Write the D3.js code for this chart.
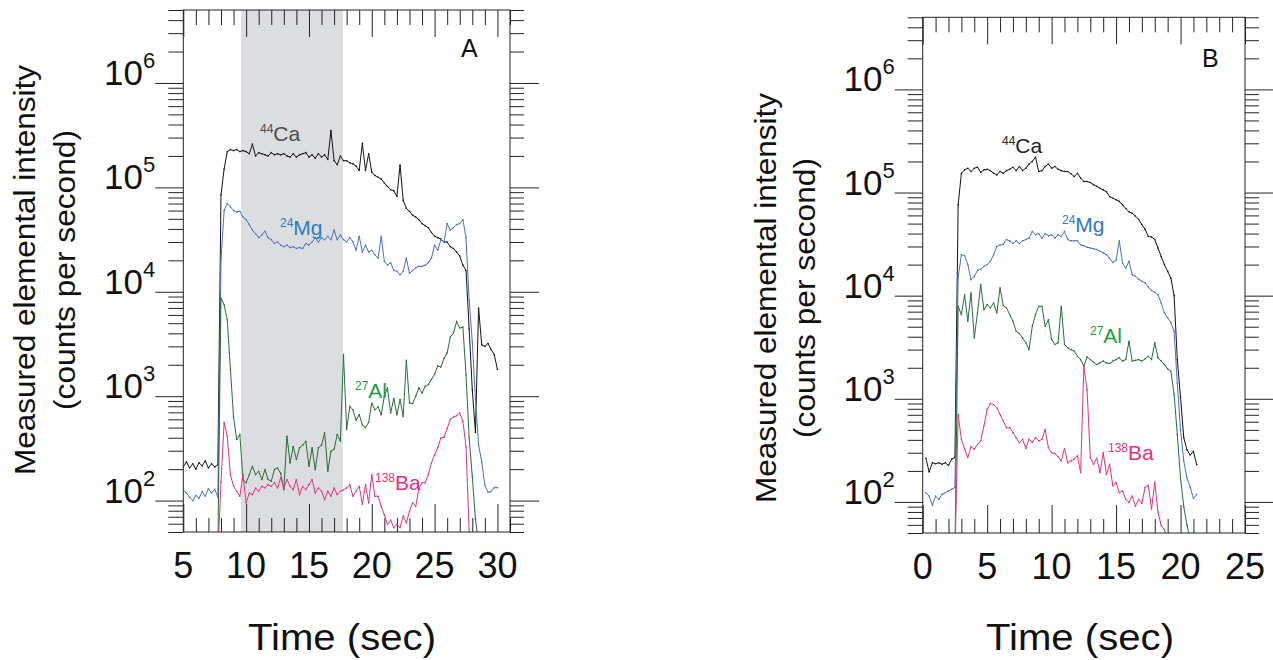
<!DOCTYPE html>
<html>
<head>
<meta charset="utf-8">
<script src="https://cdn.jsdelivr.net/npm/d3@7"></script>
<style>
  html, body { margin: 0; padding: 0; background: #fff; }
  svg { display: block; font-family: "Liberation Sans", Arial, Helvetica, sans-serif; }
</style>
</head>
<body>
<svg id="chart" width="1273" height="660"></svg>
<script>
// ---- Panel A: time-resolved signal, sampled every 0.25 s from 5 s ----
const timeStartA = 5;
const sweepA = 0.25;
const ca44A = [210,235,205,225,200,230,215,240,205,225,210,220,
  85000,150000,220000,230000,225000,230000,220000,225000,220000,210000,260000,200000,
  215000,210000,205000,200000,215000,205000,210000,205000,210000,200000,195000,210000,
  195000,205000,210000,215000,195000,205000,190000,210000,195000,205000,185000,350000,
  180000,165000,200000,180000,180000,172000,168000,160000,145000,265000,145000,210000,
  140000,130000,125000,120000,110000,102000,95000,93000,82000,164000,75000,63000,
  59000,54000,52000,49000,45000,43000,41000,37000,34000,33000,32000,30000,
  30000,27000,26000,24000,22000,18000,16000,4400,1150,450,7000,3100,
  3000,3200,2800,2500,1800];
const mg24A = [125,118,108,100,112,105,122,110,130,118,128,108,
  20000,60000,70000,65000,60000,58000,59000,52000,49000,44000,39000,36000,
  33000,35000,38000,33000,31500,29000,30000,28000,27000,28000,26500,27000,
  26000,26500,26000,29000,28000,30000,33000,30000,33000,31500,34000,31500,
  39000,31500,35000,31500,30000,33000,30000,25000,34000,24000,28000,24000,
  25000,22600,21000,34000,19500,18000,19000,16000,15700,14500,15700,21000,
  15000,16000,17000,17500,17500,18000,19000,21000,28000,25000,31500,30000,
  45000,39000,41000,44000,45000,49000,33000,8300,3300,930,340,235,
  140,120,122,133,133];
const al27A = [30,28,32,30,27,31,29,33,30,28,31,35,
  8700,7500,5400,1800,630,384,430,159,148,177,213,177,
  191,159,198,159,153,198,205,182,127,413,229,330,
  247,320,340,370,213,320,198,320,340,445,191,297,
  310,430,370,2500,480,800,740,590,665,530,500,560,
  860,740,790,660,1000,1200,690,950,665,930,640,2200,
  860,850,1000,1200,1070,1240,1290,1450,1620,1950,1900,2300,
  2600,3700,4000,5200,4500,4600,1600,400,170,66,40,30,
  28,25,27,25,24];
const ba138A = [25,22,28,24,20,26,23,27,21,25,24,30,
  150,560,413,177,137,123,110,177,95,118,114,132,
  123,137,132,142,137,148,132,165,132,159,137,127,
  159,114,137,127,142,159,118,132,123,102,123,110,
  132,114,123,127,132,142,110,123,137,92,142,95,
  177,110,110,88,73,59,65,55,59,55,71,61,
  79,95,88,132,148,148,177,229,275,320,398,405,
  490,600,630,650,690,575,330,50,30,25,22,24,
  20,22,21,20,20];
const shadedWindowA = [9.6, 17.7];

// ---- Panel B: sampled every 0.25 s from 0.25 s ----
const timeStartB = 0.25;
const sweepB = 0.25;
const ca44B = [265,195,240,235,240,232,240,226,260,270,
  76000,154000,166000,172000,160000,172000,176000,157000,166000,168000,
  163000,154000,148000,160000,154000,163000,168000,176000,163000,179000,
  163000,172000,189000,200000,220000,160000,163000,179000,189000,172000,
  179000,168000,163000,160000,160000,152000,143000,154000,138000,128000,
  128000,125000,119000,115000,110000,106000,102000,91000,88000,85000,
  82000,76000,70000,65000,63000,59000,55000,49000,44000,37500,
  37000,35000,29000,24000,20000,17200,14800,10000,2400,1030,
  420,320,285,310,230];
const mg24B = [123,114,93,114,106,119,123,128,133,138,
  15000,25000,24500,20000,14300,15400,17600,18000,19200,20000,
  21500,25000,30000,31000,31500,35000,34000,32000,34000,32000,
  34000,35000,36000,42000,39000,40000,36000,40000,38000,39000,
  36000,39000,37500,42000,35000,34000,34000,34000,31000,30500,
  29500,29000,28500,28000,27000,26000,25000,23000,21000,22000,
  34000,20700,18500,21500,16000,15400,14500,13800,13300,12100,
  11200,10800,10200,8500,6800,6100,5500,4500,1400,500,
  250,170,140,108,118];
const al27B = [30,28,32,29,27,31,30,28,33,30,
  7900,6550,10200,5650,10600,3900,6800,12800,7300,8200,
  7600,8500,6800,11900,8000,7600,6550,5650,4520,4300,
  3900,3490,3000,5050,6550,7900,7900,5050,5860,3750,
  3360,3490,7900,3360,3120,3000,2900,2590,2400,2070,
  2550,2400,2260,2150,2230,2320,2230,2200,2320,2400,
  2500,2320,2400,3620,2320,2360,2400,2320,2440,2590,
  2400,3490,2500,2320,2150,1950,1850,1100,450,170,
  90,60,42,35,30];
const ba138B = [30,28,32,29,27,31,30,28,33,30,
  705,405,325,270,345,325,360,390,545,790,
  900,880,820,705,610,525,525,470,420,375,
  405,330,405,380,420,390,405,505,335,300,
  295,275,250,330,240,250,260,280,192,2070,
  1230,270,232,265,192,300,185,232,143,154,
  123,128,106,99,114,91,106,97,138,145,
  85,155,80,59,54,40,35,32,30,28,
  30,27,25,26,25];

// ---- Axis ticks ----
const xMajorA = [5, 10, 15, 20, 25, 30];
const xMajorB = [0, 5, 10, 15, 20, 25];
const decades = [2, 3, 4, 5, 6];
const yDomain = [50, 5e6];
const xTitle = "Time (sec)";
const yTitle1 = "Measured elemental intensity";
const yTitle2 = "(counts per second)";

const elements = [
  { key: "ca", mass: "44", sym: "Ca", line: "#111111" },
  { key: "mg", mass: "24", sym: "Mg", line: "#4a6fc4" },
  { key: "al", mass: "27", sym: "Al", line: "#2a6b3a" },
  { key: "ba", mass: "138", sym: "Ba", line: "#e8307c" }
];

const svg = d3.select("#chart");
const FONT = '"Liberation Sans", Arial, Helvetica, sans-serif';

function minorLogTicks(domain) {
  const out = [];
  for (let e = 0; e <= 7; e++) {
    for (let m = 2; m <= 9; m++) {
      const v = m * Math.pow(10, e);
      if (v >= domain[0] && v <= domain[1]) out.push(v);
    }
  }
  return out;
}

function drawPanel(p) {
  const x = d3.scaleLinear().domain(p.xDomain).range([p.left, p.right]);
  const y = d3.scaleLog().domain(yDomain).range([p.bottom, p.top]);
  const g = svg.append("g");

  const clipId = "clip-" + p.id;
  svg.append("defs").append("clipPath").attr("id", clipId)
    .append("rect")
    .attr("x", p.left).attr("y", p.top)
    .attr("width", p.right - p.left).attr("height", p.bottom - p.top);

  // shaded acquisition window
  if (p.window) {
    g.append("rect")
      .attr("x", x(p.window[0])).attr("y", p.top)
      .attr("width", x(p.window[1]) - x(p.window[0]))
      .attr("height", p.bottom - p.top)
      .attr("fill", "#dcdde0");
  }

  // axes
  const xMinor = d3.range(Math.ceil(p.xDomain[0]), Math.floor(p.xDomain[1]) + 1)
    .filter(v => !p.xMajor.includes(v));
  const yMinor = minorLogTicks(yDomain);
  const yMajor = decades.map(n => Math.pow(10, n));

  function addAxis(axis, transform) {
    const a = g.append("g").attr("transform", transform).call(axis);
    a.select(".domain").remove();
    a.selectAll("text").remove();
    a.selectAll("line").attr("stroke", "#222").attr("stroke-width", 1);
    return a;
  }
  addAxis(d3.axisTop(x).tickValues(xMinor).tickSize(-15).tickSizeOuter(0), `translate(0,${p.top})`);
  addAxis(d3.axisTop(x).tickValues(p.xMajor).tickSize(-27).tickSizeOuter(0), `translate(0,${p.top})`);
  addAxis(d3.axisBottom(x).tickValues(xMinor).tickSize(-14).tickSizeOuter(0), `translate(0,${p.bottom})`);
  addAxis(d3.axisBottom(x).tickValues(p.xMajor).tickSize(-28).tickSizeOuter(0), `translate(0,${p.bottom})`);
  addAxis(d3.axisLeft(y).tickValues(yMinor).tickSize(15).tickSizeOuter(0), `translate(${p.left},0)`);
  addAxis(d3.axisLeft(y).tickValues(yMajor).tickSize(28).tickSizeOuter(0), `translate(${p.left},0)`);
  addAxis(d3.axisRight(y).tickValues(yMinor).tickSize(14).tickSizeOuter(0), `translate(${p.right},0)`);
  addAxis(d3.axisRight(y).tickValues(yMajor).tickSize(29).tickSizeOuter(0), `translate(${p.right},0)`);

  // x tick labels
  g.selectAll(".xl").data(p.xMajor).enter().append("text")
    .attr("x", d => x(d)).attr("y", p.bottom + 46)
    .attr("text-anchor", "middle")
    .attr("font-size", 36).attr("fill", "#111")
    .text(d => d);

  // y tick labels: 10^n
  decades.forEach(n => {
    const t = g.append("text")
      .attr("x", p.left - 28).attr("y", y(Math.pow(10, n)) + 2)
      .attr("text-anchor", "end").attr("fill", "#111")
      .attr("font-size", 35);
    t.append("tspan").text("10");
    t.append("tspan").attr("font-size", 22).attr("dy", -17).text(n);
  });

  // series
  const lines = g.append("g").attr("clip-path", `url(#${clipId})`);
  elements.forEach(el => {
    const vals = p.series[el.key];
    const pts = vals.map((v, i) => [x(p.t0 + i * p.step), y(v)]);
    lines.append("path")
      .attr("d", d3.line()(pts))
      .attr("fill", "none").attr("stroke", el.line)
      .attr("stroke-width", 1).attr("stroke-linejoin", "round");
    lines.selectAll(null).data(pts).enter().append("circle")
      .attr("cx", d => d[0]).attr("cy", d => d[1]).attr("r", 0.8)
      .attr("fill", el.line);
  });

  // frame
  g.append("rect")
    .attr("x", p.left).attr("y", p.top)
    .attr("width", p.right - p.left).attr("height", p.bottom - p.top)
    .attr("fill", "none").attr("stroke", "#222").attr("stroke-width", 1);

  // element labels
  p.labels.forEach(l => {
    const t = g.append("text").attr("x", l.x).attr("y", l.y).attr("fill", l.color)
      .attr("font-size", 21);
    t.append("tspan").attr("font-size", 12).attr("dy", -8).text(l.mass);
    t.append("tspan").attr("dy", 8).text(l.sym);
  });

  // panel letter
  g.append("text").attr("x", p.letterX).attr("y", p.letterY)
    .attr("font-size", 25).attr("fill", "#111").text(p.letter);

  // axis titles
  g.append("text")
    .attr("x", p.xTitleX).attr("y", 650).attr("text-anchor", "middle")
    .attr("font-size", 36).attr("fill", "#111")
    .attr("textLength", 188).attr("lengthAdjust", "spacingAndGlyphs")
    .text(xTitle);
  const yt = g.append("g")
    .attr("transform", `translate(0,${p.yTitleY})`);
  yt.append("text")
    .attr("transform", `translate(${p.yTitleX1},0) rotate(-90)`)
    .attr("text-anchor", "middle").attr("font-size", 30).attr("fill", "#111")
    .attr("textLength", 410).attr("lengthAdjust", "spacingAndGlyphs")
    .text(yTitle1);
  yt.append("text")
    .attr("transform", `translate(${p.yTitleX2},0) rotate(-90)`)
    .attr("text-anchor", "middle").attr("font-size", 30).attr("fill", "#111")
    .attr("textLength", 280).attr("lengthAdjust", "spacingAndGlyphs")
    .text(yTitle2);
}

drawPanel({
  id: "a", left: 183.3, right: 510, top: 10, bottom: 532,
  xDomain: [5, 31], xMajor: xMajorA, t0: timeStartA, step: sweepA,
  window: shadedWindowA,
  series: { ca: ca44A, mg: mg24A, al: al27A, ba: ba138A },
  labels: [
    { x: 260, y: 141, mass: "44", sym: "Ca", color: "#4d4d4d" },
    { x: 280, y: 235, mass: "24", sym: "Mg", color: "#2c7cc0" },
    { x: 355, y: 398, mass: "27", sym: "Al", color: "#1f9a4a" },
    { x: 375, y: 490, mass: "138", sym: "Ba", color: "#e8307c" }
  ],
  letter: "A", letterX: 461, letterY: 57,
  xTitleX: 342, yTitleY: 270, yTitleX1: 35, yTitleX2: 75
});

drawPanel({
  id: "b", left: 922.7, right: 1245, top: 17.3, bottom: 533,
  xDomain: [0, 25], xMajor: xMajorB, t0: timeStartB, step: sweepB,
  window: null,
  series: { ca: ca44B, mg: mg24B, al: al27B, ba: ba138B },
  labels: [
    { x: 1002, y: 153, mass: "44", sym: "Ca", color: "#222" },
    { x: 1062, y: 232, mass: "24", sym: "Mg", color: "#2c7cc0" },
    { x: 1090, y: 343, mass: "27", sym: "Al", color: "#1f9a4a" },
    { x: 1108, y: 460, mass: "138", sym: "Ba", color: "#e8307c" }
  ],
  letter: "B", letterX: 1202, letterY: 67,
  xTitleX: 1080, yTitleY: 298, yTitleX1: 776, yTitleX2: 815
});
</script>
</body>
</html>
